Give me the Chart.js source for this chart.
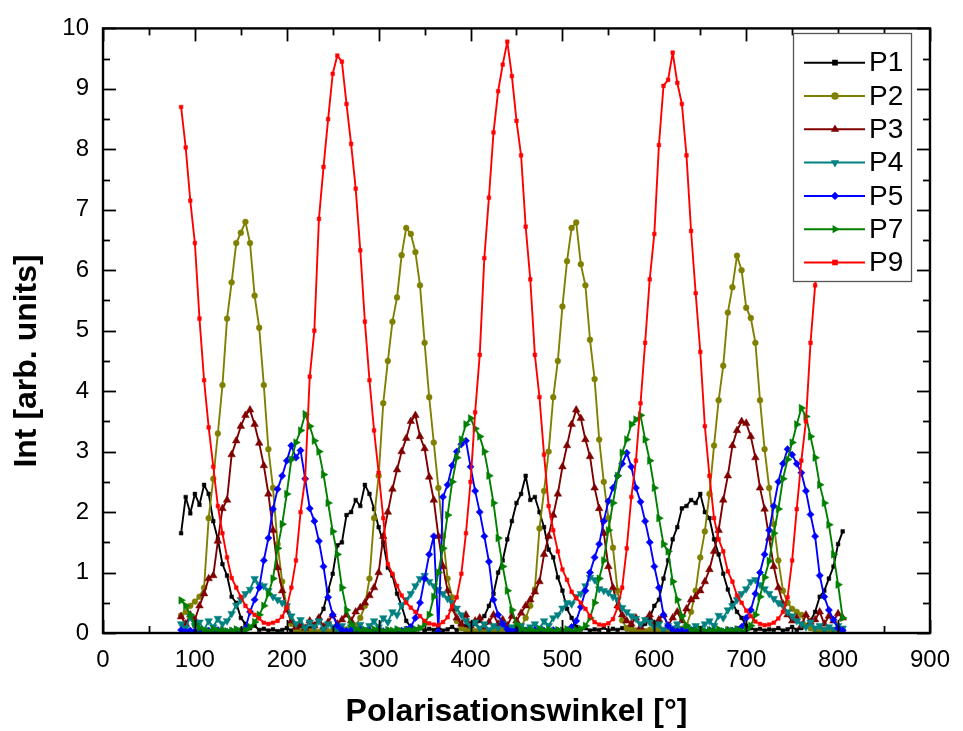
<!DOCTYPE html>
<html><head><meta charset="utf-8">
<script src="https://cdn.jsdelivr.net/npm/chart.js@4.4.0/dist/chart.umd.min.js"></script>
<style>html,body{margin:0;padding:0;background:#fff;}#wrap{width:963px;height:731px;}</style>
</head><body><div id="wrap"><canvas id="c" width="963" height="731"></canvas></div>
<script>
const angles = [85,90,95,100,105,110,115,120,125,130,135,140,145,150,155,160,165,170,175,180,185,190,195,200,205,
210,215,220,225,230,235,240,245,250,255,260,265,270,275,280,285,290,295,300,305,310,315,320,325,
330,335,340,345,350,355,360,365,370,375,380,385,390,395,400,405,410,415,420,425,430,435,440,445,
450,455,460,465,470,475,480,485,490,495,500,505,510,515,520,525,530,535,540,545,550,555,560,565,
570,575,580,585,590,595,600,605,610,615,620,625,630,635,640,645,650,655,660,665,670,675,680,685,
690,695,700,705,710,715,720,725,730,735,740,745,750,755,760,765,770,775,780,785,790,795,800,805];

const seriesNames = ['P1','P2','P3','P4','P5','P7','P9'];

const p1 = [1.65,2.25,1.98,2.3,2.12,2.45,2.3,1.85,1.55,1.14,0.95,0.6,0.5,0.25,0.15,0.08,0.12,0.05,0.07,0.04,0.06,0.03,0.05,0.08,0.04,
0.06,0.1,0.05,0.08,0.12,0.25,0.4,0.7,0.98,1.45,1.5,1.95,2.0,2.2,2.1,2.45,2.3,2.05,1.75,1.5,1.08,0.95,0.65,0.45,
0.2,0.1,0.06,0.08,0.04,0.07,0.05,0.09,0.04,0.06,0.1,0.05,0.08,0.12,0.1,0.15,0.2,0.28,0.45,0.65,1.0,1.2,1.55,1.85,
2.15,2.3,2.6,2.2,2.25,2.0,1.75,1.38,1.25,0.92,0.7,0.4,0.25,0.1,0.06,0.08,0.04,0.06,0.05,0.09,0.04,0.07,0.05,0.08,
0.06,0.1,0.05,0.08,0.15,0.25,0.45,0.55,0.9,1.2,1.55,1.75,2.06,2.1,2.2,2.15,2.3,2.0,1.9,1.55,1.3,0.98,0.72,0.5,
0.35,0.25,0.12,0.08,0.05,0.07,0.04,0.06,0.05,0.08,0.04,0.06,0.1,0.05,0.08,0.12,0.2,0.35,0.6,0.7,0.9,1.1,1.47,1.68];

const p2 = [0.29,0.35,0.45,0.52,0.6,0.75,1.9,2.55,3.3,4.1,5.2,5.8,6.45,6.62,6.8,6.45,5.58,5.05,4.1,3.04,2.4,1.47,0.85,0.42,0.15,
0.06,0.04,0.05,0.03,0.04,0.02,0.05,0.03,0.04,0.05,0.04,0.06,0.08,0.12,0.25,0.45,0.9,1.9,2.6,3.8,4.5,5.15,5.55,6.25,
6.7,6.6,6.3,5.75,4.8,3.9,3.15,2.4,1.6,0.9,0.59,0.2,0.08,0.05,0.04,0.03,0.05,0.04,0.03,0.05,0.04,0.06,0.04,0.05,
0.07,0.1,0.25,0.45,0.72,1.73,2.35,3.0,3.9,4.5,5.4,6.15,6.7,6.79,6.1,5.75,4.85,4.2,3.2,2.5,1.9,1.41,0.7,0.21,
0.08,0.05,0.04,0.06,0.03,0.05,0.04,0.06,0.05,0.04,0.06,0.05,0.07,0.12,0.35,0.7,1.25,1.68,2.3,3.1,3.85,4.42,5.3,5.72,
6.24,6.0,5.38,5.21,4.8,3.85,3.04,2.4,1.8,1.2,0.7,0.5,0.4,0.35,0.3,0.12,0.08,0.05,0.04,0.05,0.03,0.05,0.04,0.05];

const p3 = [0.27,0.15,0.3,0.22,0.45,0.65,0.9,0.95,1.52,2.06,2.2,2.95,3.18,3.42,3.6,3.69,3.45,3.14,2.77,2.3,1.7,1.08,0.7,0.38,0.2,
0.1,0.15,0.08,0.2,0.12,0.25,0.1,0.18,0.3,0.15,0.22,0.3,0.2,0.35,0.42,0.5,0.62,0.75,1.0,1.6,2.0,2.38,2.7,3.0,
3.22,3.5,3.6,3.25,3.05,2.58,2.2,1.6,1.1,0.7,0.4,0.25,0.15,0.3,0.12,0.2,0.25,0.1,0.18,0.3,0.15,0.22,0.12,0.28,
0.2,0.33,0.45,0.55,0.68,0.85,1.3,1.6,1.95,2.3,2.75,3.1,3.45,3.69,3.55,3.2,2.92,2.4,2.06,1.65,1.1,0.75,0.45,0.3,
0.2,0.15,0.25,0.1,0.2,0.3,0.15,0.22,0.3,0.12,0.25,0.35,0.2,0.4,0.55,0.6,0.7,0.85,1.05,1.35,1.7,2.2,2.6,3.1,
3.35,3.5,3.47,3.25,2.9,2.4,2.05,1.57,1.1,0.75,0.48,0.3,0.2,0.25,0.12,0.3,0.18,0.22,0.35,0.15,0.28,0.2,0.32,0.25];

const p4 = [0.15,0.08,0.27,0.12,0.18,0.05,0.2,0.1,0.24,0.15,0.2,0.32,0.46,0.55,0.65,0.72,0.9,0.8,0.78,0.7,0.6,0.55,0.5,0.45,0.28,
0.15,0.22,0.08,0.18,0.1,0.2,0.06,0.15,0.1,0.05,0.12,0.04,0.1,0.06,0.14,0.05,0.12,0.2,0.1,0.25,0.18,0.35,0.3,0.46,
0.55,0.65,0.78,0.9,0.95,0.85,0.78,0.72,0.65,0.57,0.5,0.41,0.3,0.2,0.12,0.18,0.08,0.15,0.05,0.12,0.08,0.15,0.05,0.1,
0.04,0.12,0.06,0.1,0.15,0.08,0.2,0.12,0.25,0.3,0.41,0.5,0.48,0.6,0.65,0.78,0.92,0.88,0.73,0.7,0.67,0.6,0.55,0.42,
0.35,0.28,0.24,0.15,0.22,0.18,0.1,0.15,0.05,0.12,0.08,0.15,0.05,0.1,0.06,0.12,0.08,0.15,0.2,0.12,0.29,0.25,0.38,0.45,
0.55,0.65,0.73,0.85,0.88,0.8,0.73,0.65,0.57,0.5,0.45,0.35,0.28,0.2,0.15,0.1,0.18,0.08,0.12,0.05,0.1,0.06,0.12,0.08];

const p5 = [0.05,0.02,0.04,0.03,0.05,0.02,0.04,0.03,0.05,0.04,0.02,0.03,0.05,0.04,0.08,0.35,0.55,0.75,1.2,1.57,2.05,2.38,2.6,2.85,3.1,
2.9,3.02,2.55,2.06,1.85,1.52,1.1,0.59,0.3,0.12,0.05,0.03,0.04,0.02,0.05,0.03,0.04,0.02,0.05,0.03,0.04,0.02,0.05,0.04,
0.06,0.1,0.25,0.5,0.9,1.3,1.6,0.02,2.25,2.45,2.77,3.0,3.12,3.18,2.75,2.35,2.0,1.6,1.18,0.55,0.3,0.15,0.06,0.03,
0.05,0.02,0.04,0.03,0.05,0.02,0.04,0.03,0.05,0.04,0.03,0.05,0.1,0.2,0.43,0.7,1.0,1.25,1.47,1.85,2.18,2.4,2.6,2.8,
2.98,2.75,2.4,2.17,1.85,1.5,1.1,0.75,0.3,0.12,0.05,0.03,0.04,0.02,0.05,0.03,0.04,0.02,0.05,0.03,0.04,0.02,0.05,0.04,
0.06,0.1,0.25,0.38,0.65,1.0,1.3,1.7,2.1,2.5,2.8,3.04,2.95,2.8,2.65,2.35,1.96,1.6,0.95,0.6,0.38,0.22,0.08,0.04];

const p7 = [0.54,0.45,0.3,0.15,0.08,0.05,0.03,0.06,0.04,0.05,0.03,0.04,0.06,0.03,0.05,0.1,0.18,0.3,0.45,0.65,0.9,1.4,1.8,2.3,2.87,
3.15,3.35,3.62,3.42,3.18,3.0,2.62,2.15,1.68,1.3,0.75,0.38,0.15,0.06,0.04,0.05,0.03,0.06,0.04,0.03,0.05,0.04,0.06,0.03,
0.05,0.04,0.06,0.08,0.15,0.3,0.6,1.0,1.4,1.95,2.5,2.9,3.2,3.45,3.55,3.38,3.25,3.0,2.6,2.15,1.57,1.1,0.7,0.38,
0.15,0.06,0.04,0.05,0.03,0.06,0.04,0.05,0.03,0.05,0.04,0.06,0.03,0.05,0.07,0.12,0.25,0.5,0.9,1.2,1.7,2.15,2.6,2.98,
3.2,3.45,3.53,3.6,3.2,2.85,2.4,1.9,1.47,1.35,0.85,0.55,0.28,0.12,0.05,0.04,0.06,0.03,0.05,0.04,0.06,0.03,0.05,0.04,
0.06,0.03,0.05,0.12,0.3,0.6,0.92,1.19,1.65,2.05,2.55,2.87,3.15,3.45,3.72,3.58,3.25,2.9,2.45,2.15,1.79,1.3,0.8,0.25];

const p9 = [8.7,8.03,7.15,6.45,5.2,4.18,3.4,2.75,2.1,1.65,1.25,0.91,0.75,0.6,0.45,0.36,0.3,0.24,0.17,0.15,0.17,0.2,0.27,0.42,0.75,
1.2,2.0,2.55,4.24,5.0,6.85,7.71,8.5,9.25,9.55,9.45,8.75,8.09,7.35,6.33,5.15,4.18,3.35,2.65,1.9,1.14,0.98,0.78,0.62,
0.5,0.42,0.35,0.28,0.2,0.16,0.14,0.13,0.18,0.26,0.44,0.59,0.98,1.65,2.5,3.65,4.6,6.2,7.2,8.28,8.96,9.4,9.78,9.21,
8.47,7.9,6.72,5.85,4.6,3.9,2.95,2.1,1.7,1.35,1.05,0.88,0.68,0.58,0.5,0.4,0.28,0.18,0.14,0.13,0.16,0.23,0.42,0.75,
1.4,2.25,2.85,3.8,4.8,5.85,6.6,8.07,9.05,9.15,9.6,9.1,8.75,7.9,6.65,5.62,4.65,3.42,2.6,1.9,1.55,1.35,1.02,0.85,
0.62,0.5,0.37,0.28,0.19,0.15,0.13,0.14,0.17,0.24,0.35,0.59,1.2,2.05,2.85,3.5,4.8,5.75,6.6,7.5];

const xTickValues = [0,100,200,300,400,500,600,700,800,900];
const yTickValues = [0,1,2,3,4,5,6,7,8,9,10];
const yTitle = 'Int [arb. units]';

const seriesValues = [p1,p2,p3,p4,p5,p7,p9];
const seriesColors = ['#000000','#808000','#800000','#008080','#0000FF','#008000','#FF0000'];
const seriesMarkers = [
  {pointStyle:'rect', radius:2.6, rotation:0},
  {pointStyle:'circle', radius:2.9, rotation:0},
  {pointStyle:'triangle', radius:4.4, rotation:0},
  {pointStyle:'triangle', radius:4.4, rotation:180},
  {pointStyle:'rectRot', radius:3.6, rotation:0},
  {pointStyle:'triangle', radius:4.4, rotation:90},
  {pointStyle:'rect', radius:2.6, rotation:0}
];

const FONT = "'Liberation Sans', Arial, sans-serif";

const datasets = seriesNames.map((name,i) => ({
  label: name,
  data: seriesValues[i].map((v,k) => ({x: angles[k], y: v})),
  borderColor: seriesColors[i],
  backgroundColor: seriesColors[i],
  borderWidth: 1.9,
  pointStyle: seriesMarkers[i].pointStyle,
  pointRadius: seriesMarkers[i].radius,
  pointRotation: seriesMarkers[i].rotation,
  pointBorderWidth: 0.5,
  pointBackgroundColor: seriesColors[i],
  pointBorderColor: seriesColors[i],
  tension: 0,
  order: seriesNames.length - i
}));

const framePlugin = {
  id: 'frame',
  afterDatasetsDraw(chart) {
    const {ctx, chartArea:{left,right,top,bottom}, scales:{x,y}} = chart;
    ctx.save();
    ctx.strokeStyle = '#000';
    ctx.lineWidth = 1.8;
    const seg = (x1,y1,x2,y2) => { ctx.beginPath(); ctx.moveTo(x1,y1); ctx.lineTo(x2,y2); ctx.stroke(); };
    const xs = xTickValues;
    for (let i = 0; i < xs.length; i++) {
      const px = Math.round(x.getPixelForValue(xs[i])) + 0.5;
      seg(px,bottom,px,bottom-13); seg(px,top,px,top+13);
      if (i < xs.length-1) {
        const pm = Math.round(x.getPixelForValue((xs[i]+xs[i+1])/2)) + 0.5;
        seg(pm,bottom,pm,bottom-7); seg(pm,top,pm,top+7);
      }
    }
    const ys = yTickValues;
    for (let i = 0; i < ys.length; i++) {
      const py = Math.round(y.getPixelForValue(ys[i])) + 0.5;
      seg(left,py,left+13,py); seg(right,py,right-13,py);
      if (i < ys.length-1) {
        const pm = Math.round(y.getPixelForValue((ys[i]+ys[i+1])/2)) + 0.5;
        seg(left,pm,left+7,pm); seg(right,pm,right-7,pm);
      }
    }
    ctx.lineWidth = 2.4;
    ctx.strokeRect(left, top, right-left, bottom-top);
    ctx.restore();
  },
  afterDraw(chart) {
    const ctx = chart.ctx;
    // y axis title
    ctx.save();
    ctx.fillStyle = '#000';
    ctx.font = "bold 32px " + FONT;
    ctx.textAlign = 'center';
    ctx.textBaseline = 'middle';
    ctx.translate(27, chart.scales.y.getPixelForValue(4.5));
    ctx.rotate(-Math.PI/2);
    ctx.fillText(yTitle, 0, 0);
    ctx.restore();
    // legend
    const bx = 793, by = 33, bw = 118, bh = 248;
    ctx.save();
    ctx.fillStyle = '#fff';
    ctx.fillRect(bx, by, bw, bh);
    ctx.strokeStyle = '#555';
    ctx.lineWidth = 1.3;
    ctx.strokeRect(bx+0.5, by+0.5, bw, bh);
    ctx.font = "28px " + FONT;
    ctx.textBaseline = 'middle';
    ctx.textAlign = 'left';
    seriesNames.forEach((name,i) => {
      const yy = 62.7 + i*33.3;
      ctx.strokeStyle = seriesColors[i];
      ctx.fillStyle = seriesColors[i];
      ctx.lineWidth = 2;
      ctx.beginPath(); ctx.moveTo(804,yy); ctx.lineTo(865,yy); ctx.stroke();
      Chart.helpers.drawPoint(ctx, {pointStyle: seriesMarkers[i].pointStyle, radius: Math.min(seriesMarkers[i].radius, 2.8), rotation: seriesMarkers[i].rotation, borderWidth: 0.5}, 835, yy);
      ctx.fillStyle = '#000';
      ctx.fillText(name, 869, yy+1);
    });
    ctx.restore();
  }
};

new Chart(document.getElementById('c'), {
  type: 'line',
  data: { datasets },
  options: {
    responsive: false,
    animation: false,
    devicePixelRatio: 1,
    layout: { padding: { top: 20, right: 26, bottom: 0, left: 0 } },
    plugins: { legend: { display: false }, tooltip: { enabled: false } },
    elements: { line: { borderJoinStyle: 'round' } },
    scales: {
      x: {
        type: 'linear', min: 0, max: 900,
        afterFit(s) { s.height = 98; },
        afterBuildTicks(s) { s.ticks = xTickValues.map(v => ({value: v})); },
        ticks: { color: '#000', font: { family: FONT, size: 24 }, padding: 13, maxRotation: 0, autoSkip: false },
        grid: { display: false, drawTicks: false },
        border: { display: false },
        title: { display: true, text: 'Polarisationswinkel [°]', color: '#000', font: { family: FONT, size: 32, weight: 'bold' }, padding: { top: 0, bottom: 0 } }
      },
      y: {
        type: 'linear', min: 0, max: 10,
        afterFit(s) { s.width = 103; },
        afterBuildTicks(s) { s.ticks = yTickValues.map(v => ({value: v})); },
        ticks: { color: '#000', font: { family: FONT, size: 24 }, padding: 14 },
        grid: { display: false, drawTicks: false },
        border: { display: false },
        title: { display: false, text: yTitle }
      }
    }
  },
  plugins: [framePlugin]
});
</script>
</body></html>
